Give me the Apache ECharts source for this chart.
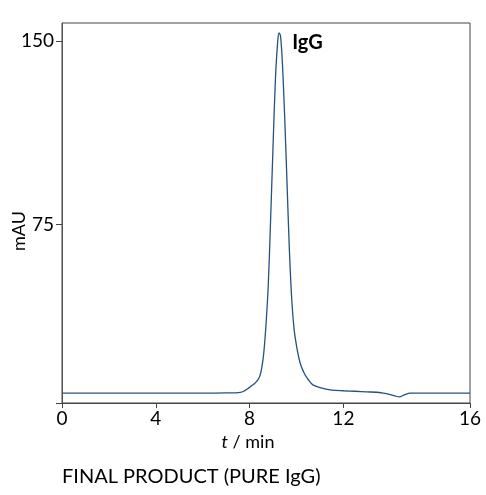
<!DOCTYPE html>
<html>
<head>
<meta charset="utf-8">
<script src="https://cdn.jsdelivr.net/npm/echarts@6/dist/echarts.min.js"></script>
<style>
html,body{margin:0;padding:0;background:#fff;}
#chart{width:486px;height:495px;}
</style>
</head>
<body>
<div id="chart"></div>
<script>
// Retention time (min) and absorbance (mAU)
var times = [0, 1, 2, 3, 4, 5, 6, 7, 7.4, 7.6, 7.75, 7.9, 8.05, 8.2, 8.32, 8.44, 8.52, 8.6, 8.7, 8.8, 8.9, 9.0, 9.1, 9.2, 9.26, 9.32, 9.4, 9.5, 9.6, 9.7, 9.8, 9.9, 10.0, 10.1, 10.2, 10.3, 10.4, 10.5, 10.7, 11.0, 11.5, 12.0, 12.5, 13.0, 13.4, 13.7, 14.0, 14.2, 14.38, 14.6, 14.84, 15.2, 16.0, 16.7, 17.4];
var absorbance = [6.0, 6.0, 6.0, 6.0, 6.0, 6.0, 6.05, 6.1, 6.15, 6.3, 6.8, 7.7, 8.8, 9.9, 11.0, 13.1, 16.5, 22.0, 34.0, 51.0, 78.0, 107.0, 134.0, 150.0, 153.4, 152.0, 141.0, 118.0, 91.0, 64.0, 44.0, 32.0, 25.5, 20.5, 17.0, 14.8, 13.0, 11.6, 9.4, 8.3, 7.3, 7.0, 6.8, 6.55, 6.4, 6.0, 5.4, 4.9, 4.5, 5.3, 6.0, 6.0, 6.0, 6.0, 6.0];
var xTickValues = [0, 4, 8, 12, 17.4];
var xTickLabels = ['0', '4', '8', '12', '16'];
var yTickValues = [2, 75, 150];
var yTickLabels = ['', '75', '150'];
var peakName = 'IgG';
var caption = 'FINAL PRODUCT (PURE IgG)';

var points = times.map(function (t, i) { return [t, absorbance[i]]; });
var peakIdx = absorbance.indexOf(Math.max.apply(null, absorbance));
var FONT = 'Lato';

var chart = echarts.init(document.getElementById('chart'));
chart.setOption({
  animation: false,
  backgroundColor: '#ffffff',
  grid: {
    left: 62, right: 16, top: 23, bottom: 92,
    containLabel: false,
    outerBoundsMode: 'none',
    show: true, borderColor: '#444', borderWidth: 1, backgroundColor: 'transparent'
  },
  xAxis: {
    type: 'value',
    min: 0, max: 17.4,
    name: '{i|t} / min',
    nameLocation: 'middle',
    nameGap: 30,
    nameMoveOverlap: false,
    nameTextStyle: {
      fontFamily: FONT, fontSize: 18, color: '#000',
      padding: [0, 36, 0, 0],
      rich: { i: { fontStyle: 'italic', fontFamily: FONT, fontSize: 18, color: '#000' } }
    },
    axisLine: { show: true, lineStyle: { color: '#444', width: 1 } },
    axisTick: { show: true, length: 5, inside: false, customValues: xTickValues, lineStyle: { color: '#444' } },
    axisLabel: {
      customValues: xTickValues,
      fontFamily: FONT, fontSize: 19, color: '#000', margin: 6,
      formatter: function (v) {
        var i = xTickValues.indexOf(v);
        return i >= 0 ? xTickLabels[i] : '';
      }
    },
    splitLine: { show: false }
  },
  yAxis: {
    type: 'value',
    min: 2, max: 157.4,
    name: 'mAU',
    nameLocation: 'middle',
    nameGap: 34,
    nameRotate: 90,
    nameMoveOverlap: false,
    nameTextStyle: { fontFamily: FONT, fontSize: 18, color: '#000', padding: [0, 36, 0, 0] },
    axisLine: { show: true, lineStyle: { color: '#555', width: 1 } },
    axisTick: { show: true, length: 6, inside: false, customValues: yTickValues, lineStyle: { color: '#444' } },
    axisLabel: {
      customValues: yTickValues,
      fontFamily: FONT, fontSize: 19, color: '#000', margin: 8,
      formatter: function (v) {
        var i = yTickValues.indexOf(v);
        return i >= 0 ? yTickLabels[i] : '';
      }
    },
    splitLine: { show: false }
  },
  series: [{
    type: 'line',
    data: points,
    smooth: 0.3,
    symbol: 'none',
    lineStyle: { color: '#25517f', width: 1.3 },
    markPoint: {
      symbol: 'circle', symbolSize: 0,
      data: [{ coord: points[peakIdx] }],
      label: {
        show: true, formatter: peakName, position: 'right',
        offset: [8, 10],
        fontFamily: FONT, fontWeight: 'bold', fontSize: 20, color: '#000'
      }
    }
  }],
  graphic: [{
    type: 'text',
    left: 62, top: 467,
    style: { text: caption, fontFamily: FONT, fontSize: 20, fill: '#000' }
  }]
});
</script>
</body>
</html>
